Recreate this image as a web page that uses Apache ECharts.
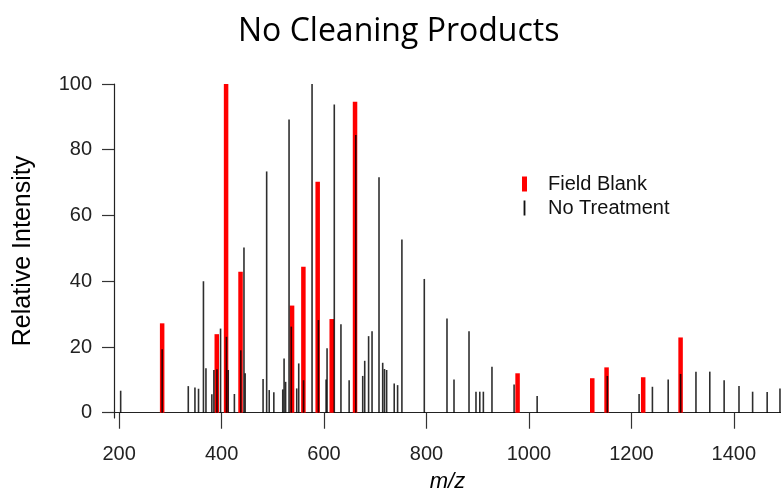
<!DOCTYPE html>
<html>
<head>
<meta charset="utf-8">
<script src="https://cdn.jsdelivr.net/npm/echarts@6/dist/echarts.min.js"></script>
<style>html,body{margin:0;padding:0;background:#fff;}#c{width:781px;height:493px;}</style>
</head>
<body>
<div id="c"></div>
<script>
// Field Blank peaks: m/z and relative intensity
const blankMz  = [284, 390.6, 408.8, 437, 537.6, 559.7, 587.6, 615, 660.5, 977.8, 1123.6, 1151.5, 1223, 1296];
const blankInt = [27.2, 23.9, 100, 42.9, 32.6, 44.4, 70.3, 28.5, 94.6, 12, 10.5, 13.8, 10.8, 22.9];

// No Treatment peaks: m/z and relative intensity
const treatMz  = [203, 284, 335, 348, 355, 364.6, 369.5, 381, 385, 391, 398, 409.5, 413, 425, 437.5, 443.7, 446,
                  481, 488, 493, 502, 519.4, 522, 525, 531.7, 536, 546.7, 550.6, 560, 576.6, 589, 604, 605.9,
                  620, 633, 649, 662, 675.5, 679.4, 687, 693.7, 707.3, 714.5, 718, 722.2, 737, 743.6, 752,
                  795.7, 840, 853.7, 883, 896.6, 904, 911, 927.8, 971, 1016, 1153, 1215, 1241, 1271.8,
                  1296, 1326, 1353, 1381, 1410, 1436.6, 1465, 1490];
const treatInt = [6.7, 19.3, 8.1, 7.7, 7.3, 40, 13.5, 5.6, 13, 13.2, 25.6, 23.1, 13, 5.7, 19, 50.3, 12,
                  10.3, 73.4, 6.9, 6.2, 7.1, 16.5, 9.4, 89.2, 26.2, 7.4, 15, 9.9, 100, 28.2, 10.1, 19.6,
                  93.8, 26.9, 9.9, 84.5, 11.2, 15.8, 23.3, 24.8, 71.6, 15.2, 13.3, 13, 8.9, 8.4, 52.7,
                  40.7, 28.7, 10.1, 24.8, 6.4, 6.4, 6.4, 14, 8.6, 5.1, 11.2, 5.7, 7.9, 10.1,
                  11.8, 12.5, 12.5, 9.9, 8.1, 6.4, 6.3, 7.4];

const xTicks = [200, 400, 600, 800, 1000, 1200, 1400];
const yTicks = [0, 20, 40, 60, 80, 100];

const seriesNames = ['Field Blank', 'No Treatment'];
const title = 'No Cleaning Products';

function stickRenderer(width, fill) {
  return function (params, api) {
    const x = api.value(0), y = api.value(1);
    const top = api.coord([x, y]);
    const base = api.coord([x, 0]);
    return {
      type: 'rect',
      shape: { x: top[0] - width / 2, y: top[1], width: width, height: base[1] - top[1] },
      style: { fill: fill }
    };
  };
}

const chart = echarts.init(document.getElementById('c'), null, { renderer: 'canvas' });
const font = '"Liberation Sans", Arial, sans-serif';

chart.setOption({
  animation: false,
  backgroundColor: '#ffffff',
  title: {
    text: title,
    left: 233, top: 11,
    textStyle: { fontFamily: '"Open Sans", sans-serif', fontWeight: 'normal', fontSize: 32, color: '#000' }
  },
  legend: {
    orient: 'vertical',
    left: 517, top: 169,
    itemGap: 4,
    itemWidth: 5, itemHeight: 15,
    textStyle: { fontFamily: font, fontSize: 20, color: '#111', padding: [0, 0, 2, 16] },
    data: [
      { name: seriesNames[0], icon: 'rect' },
      { name: seriesNames[1], icon: 'path://M0,0h1.6v13h-1.6z' }
    ]
  },
  grid: { left: 114, right: 0, top: 84, bottom: 75, containLabel: false, outerBoundsMode: 'none' },
  xAxis: {
    type: 'value',
    min: 190, max: 1492,
    name: 'm/z',
    nameLocation: 'middle',
    nameGap: 53,
    nameMoveOverlap: false,
    nameTextStyle: { fontFamily: font, fontSize: 22, fontStyle: 'italic', color: '#000' },
    axisLine: { show: true, lineStyle: { color: '#222', width: 1.2 } },
    axisTick: { show: true, length: 16, customValues: xTicks, lineStyle: { color: '#333', width: 1.2 } },
    axisLabel: { customValues: xTicks, margin: 26, fontFamily: font, fontSize: 20, color: '#222',
                 formatter: v => String(v) },
    splitLine: { show: false }
  },
  yAxis: {
    type: 'value',
    min: -1.6, max: 100,
    name: 'Relative Intensity',
    nameLocation: 'middle',
    nameGap: 78,
    nameMoveOverlap: false,
    nameTextStyle: { fontFamily: font, fontSize: 25, color: '#000' },
    axisLine: { show: true, lineStyle: { color: '#222', width: 1.2 } },
    axisTick: { show: true, inside: false, length: 12, customValues: yTicks, lineStyle: { color: '#333', width: 1.2 } },
    axisLabel: { customValues: yTicks, margin: 22, fontFamily: font, fontSize: 20, color: '#222',
                 formatter: v => String(v) },
    splitLine: { show: false }
  },
  series: [
    {
      name: seriesNames[0],
      type: 'custom',
      itemStyle: { color: '#ff0000' },
      renderItem: stickRenderer(4.5, '#ff0000'),
      encode: { x: 0, y: 1 },
      data: blankMz.map((m, i) => [m, blankInt[i]]),
      z: 2
    },
    {
      name: seriesNames[1],
      type: 'custom',
      itemStyle: { color: '#111111' },
      renderItem: stickRenderer(1.6, 'rgba(0,0,0,0.82)'),
      encode: { x: 0, y: 1 },
      data: treatMz.map((m, i) => [m, treatInt[i]]),
      z: 3
    }
  ]
});
</script>
</body>
</html>
